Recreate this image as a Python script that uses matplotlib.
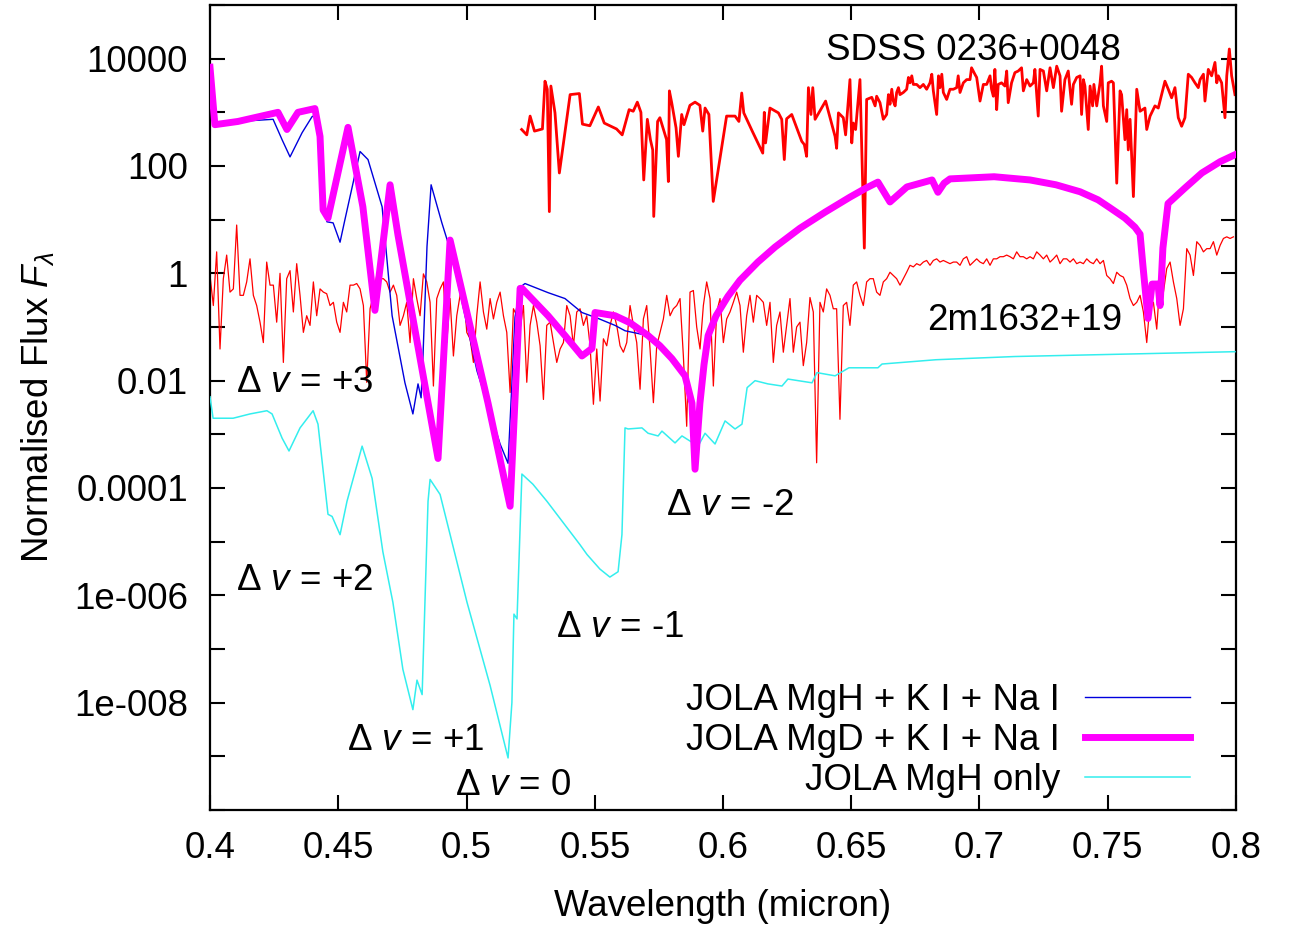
import numpy as np
import matplotlib
matplotlib.use('Agg')
import matplotlib.pyplot as plt
from matplotlib.ticker import FixedLocator, FixedFormatter, NullLocator

plt.rcParams['font.family'] = ['Liberation Sans', 'DejaVu Sans']
plt.rcParams['mathtext.fontset'] = 'custom'
plt.rcParams['mathtext.rm'] = 'Liberation Sans'
plt.rcParams['mathtext.it'] = 'Liberation Sans:italic'
plt.rcParams['mathtext.bf'] = 'Liberation Sans:bold'

# ---------------- data (log10 of normalised flux) ----------------
# JOLA MgD + K I + Na I
mgd_wl = [0.4000, 0.4019, 0.4109, 0.4265, 0.4300, 0.4343, 0.4409, 0.4429, 0.4441, 0.4460,
          0.4538, 0.4596, 0.4643, 0.4702, 0.4733, 0.4889, 0.4936, 0.5084, 0.5170, 0.5209,
          0.5216, 0.5318, 0.5384, 0.5450, 0.5489, 0.5501, 0.5579, 0.5637, 0.5708, 0.5754,
          0.5801, 0.5852, 0.5879, 0.5891, 0.5910, 0.5926, 0.5942, 0.5973, 0.6019, 0.6066,
          0.6136, 0.6203, 0.6300, 0.6398, 0.6495, 0.6558, 0.6604, 0.6651, 0.6717, 0.6815,
          0.6838, 0.6862, 0.6885, 0.7057, 0.7197, 0.7298, 0.7392, 0.7462, 0.7509, 0.7567,
          0.7606, 0.7626, 0.7637, 0.7657, 0.7673, 0.7696, 0.7704, 0.7715, 0.7735, 0.7801,
          0.7867, 0.7938, 0.7996]
mgd_log = [3.84, 2.77, 2.83, 3.00, 2.68, 3.00, 3.07, 2.55, 1.18, 1.03,
           2.72, 1.24, -0.69, 1.65, 0.71, -3.45, 0.62, -2.42, -4.34, -0.28,
           -0.28, -0.79, -1.16, -1.54, -1.40, -0.73, -0.79, -0.92, -1.16, -1.35,
           -1.59, -1.91, -2.42, -3.65, -2.42, -1.70, -1.16, -0.79, -0.43, -0.13,
           0.21, 0.49, 0.84, 1.14, 1.42, 1.59, 1.70, 1.33, 1.61, 1.74,
           1.51, 1.68, 1.76, 1.80, 1.74, 1.65, 1.52, 1.37, 1.22, 1.03,
           0.86, 0.73, 0.15, -0.84, -0.20, -0.20, -0.60, 0.47, 1.30, 1.59,
           1.87, 2.08, 2.21]

# JOLA MgH + K I + Na I
mgh_kna_wl = [0.4000, 0.4019, 0.4109, 0.4246, 0.4281, 0.4312, 0.4359, 0.4398, 0.4417, 0.4437,
              0.4456, 0.4480, 0.4507, 0.4526, 0.4585, 0.4616, 0.4671, 0.4710, 0.4760, 0.4791,
              0.4811, 0.4823, 0.4830, 0.4846, 0.4862, 0.4904, 0.4943, 0.5041, 0.5131, 0.5162,
              0.5177, 0.5189, 0.5209, 0.5228, 0.5318, 0.5384, 0.5450, 0.5513, 0.5579, 0.5618,
              0.5708, 0.5754, 0.5801, 0.5852, 0.5879, 0.5891, 0.5910, 0.5926, 0.5942, 0.5973,
              0.6019, 0.6066, 0.6136, 0.6203, 0.6300, 0.6398, 0.6495, 0.6558, 0.6604, 0.6651,
              0.6717, 0.6815, 0.6838, 0.6862, 0.6885, 0.7057, 0.7197, 0.7298, 0.7392, 0.7462,
              0.7509, 0.7567, 0.7606, 0.7626, 0.7637, 0.7657, 0.7673, 0.7696, 0.7704, 0.7715,
              0.7735, 0.7801, 0.7867, 0.7938, 0.7996]
mgh_kna_log = [3.84, 2.77, 2.83, 2.87, 2.49, 2.17, 2.62, 2.92, 2.96, 1.57,
               0.96, 0.94, 0.58, 1.00, 2.27, 2.12, 1.24, -0.79, -2.04, -2.62,
               -2.06, -2.32, -1.59, 0.50, 1.65, 0.94, 0.34, -1.82, -3.18, -3.54,
               -2.06, -0.82, -0.26, -0.19, -0.36, -0.47, -0.73, -0.84, -0.97, -1.07,
               -1.16, -1.35, -1.59, -1.91, -2.42, -3.65, -2.42, -1.70, -1.16, -0.79,
               -0.43, -0.13, 0.21, 0.49, 0.84, 1.14, 1.42, 1.59, 1.70, 1.33,
               1.61, 1.74, 1.51, 1.68, 1.76, 1.80, 1.74, 1.65, 1.52, 1.37,
               1.22, 1.03, 0.86, 0.73, 0.15, -0.84, -0.20, -0.20, -0.60, 0.47,
               1.30, 1.59, 1.87, 2.08, 2.21]

# JOLA MgH only
mgh_wl = [0.4000, 0.4012, 0.4090, 0.4156, 0.4222, 0.4242, 0.4281, 0.4308, 0.4351, 0.4402,
          0.4421, 0.4460, 0.4476, 0.4507, 0.4534, 0.4593, 0.4632, 0.4674, 0.4713, 0.4752,
          0.4791, 0.4807, 0.4827, 0.4838, 0.4850, 0.4858, 0.4897, 0.5002, 0.5092, 0.5162,
          0.5177, 0.5185, 0.5197, 0.5216, 0.5259, 0.5314, 0.5365, 0.5443, 0.5470, 0.5520,
          0.5559, 0.5591, 0.5606, 0.5618, 0.5630, 0.5684, 0.5708, 0.5747, 0.5762, 0.5813,
          0.5840, 0.5903, 0.5930, 0.5969, 0.6008, 0.6047, 0.6074, 0.6094, 0.6125, 0.6175,
          0.6230, 0.6253, 0.6347, 0.6366, 0.6437, 0.6491, 0.6604, 0.6620, 0.6830, 0.7138,
          0.7996]
mgh_log = [-2.30, -2.70, -2.70, -2.62, -2.56, -2.62, -3.07, -3.31, -2.88, -2.56,
           -2.81, -4.49, -4.53, -4.87, -4.25, -3.22, -3.82, -5.19, -6.13, -7.38,
           -8.13, -7.58, -7.85, -6.13, -4.25, -3.84, -4.12, -6.13, -7.68, -9.03,
           -8.00, -6.35, -6.44, -3.74, -3.93, -4.25, -4.57, -5.06, -5.24, -5.51,
           -5.66, -5.56, -4.87, -2.88, -2.90, -2.88, -2.98, -3.03, -2.94, -3.16,
           -3.03, -3.22, -2.98, -3.18, -2.75, -2.90, -2.81, -2.13, -2.00, -2.06,
           -2.10, -1.97, -2.04, -1.85, -1.91, -1.76, -1.76, -1.69, -1.61, -1.55,
           -1.46]

# 2m1632+19 observed spectrum (three uniformly sampled pieces)
m1632_a_range = (0.4000, 0.5222)
m1632_a_log = [-0.04, -0.60, 0.40, -1.41, -0.10, 0.34, -0.35, -0.29, 0.90, -0.41,
               -0.41, -0.16, 0.27, -0.41, -0.60, -0.91, -1.29, 0.21, -0.22, -0.22,
               -0.91, 0.00, -1.66, -0.10, 0.05, -0.72, 0.18, -0.41, -1.10, -0.79,
               -0.97, -0.16, -0.79, -0.29, -0.35, -0.38, -0.60, -0.54, -0.91, -1.10,
               -0.54, -0.72, -0.22, -0.22, -0.19, -0.29, -0.60, -2.03, -0.66, -0.41,
               -0.04, -0.10, -0.10, -0.16, -0.35, -0.22, -0.41, -0.97, -0.79, -0.54,
               -1.29, -0.10, -0.47, -0.79, -0.01, -0.16, -0.54, -2.10, -0.47, -0.29,
               -0.16, -1.29, -0.47, -1.54, -0.79, -0.41, -0.29, -1.10, -1.22, -1.66,
               -0.79, -0.16, -0.72, -1.04, -0.47, -0.85, -0.54, -0.35, -0.79, -1.10,
               -2.22, -0.66, -0.79, -1.04, -0.60]
m1632_b_range = (0.5235, 0.6430)
m1632_b_log = [-2.03, -0.97, -0.60, -0.91, -1.35, -2.35, -0.97, -0.91, -1.29, -1.66,
               -1.41, -1.29, -0.60, -0.79, -1.35, -0.72, -0.66, -0.97, -0.79, -1.35,
               -2.44, -1.41, -2.38, -1.22, -1.35, -0.97, -0.72, -0.97, -1.35, -1.47,
               -1.29, -0.60, -0.97, -1.29, -2.16, -0.85, -0.60, -1.41, -2.41, -1.35,
               -1.10, -0.85, -0.41, -0.79, -0.66, -0.60, -0.47, -1.54, -2.85, -0.35,
               -0.32, -1.00, -1.41, -0.60, -0.16, -0.47, -2.10, -0.72, -0.47, -1.29,
               -0.85, -0.72, -0.54, -0.35, -0.60, -1.47, -0.79, -0.41, -0.91, -0.41,
               -0.47, -0.54, -0.97, -0.54, -1.66, -0.97, -0.72, -1.47, -0.97, -0.47,
               -1.47, -1.00, -0.91, -1.72, -1.29, -0.45, -0.72, -3.53, -0.54, -0.72,
               -0.29, -0.41, -0.66]
m1632_c_range = (0.6443, 0.7990)
m1632_c_log = [-0.66, -2.72, -0.60, -0.54, -0.97, -0.22, -0.16, -0.41, -0.60, -0.16,
               -0.10, -0.10, -0.35, -0.41, -0.16, -0.10, 0.02, -0.04, -0.10, -0.22,
               -0.10, 0.02, 0.15, 0.12, 0.18, 0.15, 0.21, 0.24, 0.15, 0.24,
               0.27, 0.21, 0.24, 0.21, 0.18, 0.21, 0.21, 0.15, 0.27, 0.31,
               0.15, 0.21, 0.27, 0.21, 0.18, 0.27, 0.15, 0.27, 0.27, 0.31,
               0.31, 0.34, 0.31, 0.27, 0.40, 0.31, 0.31, 0.27, 0.31, 0.27,
               0.40, 0.34, 0.27, 0.34, 0.21, 0.27, 0.34, 0.18, 0.27, 0.27,
               0.21, 0.27, 0.18, 0.21, 0.18, 0.27, 0.21, 0.18, 0.27, 0.18,
               0.24, -0.04, -0.10, -0.19, 0.02, -0.04, -0.07, -0.22, -0.47, -0.60,
               -0.54, -0.41, -0.72, -1.29, -0.54, -0.54, -1.04, -0.10, -0.35, 0.09,
               0.21, -0.16, -0.47, -0.97, -0.66, 0.46, 0.34, -0.04, 0.59, 0.52,
               0.40, 0.46, 0.46, 0.59, 0.34, 0.52, 0.65, 0.68, 0.65, 0.68]

# SDSS 0236+0048 observed spectrum
sdss_wl = [0.5215, 0.5235, 0.5248, 0.5265, 0.5296, 0.5306, 0.5315, 0.5323, 0.5329, 0.5345,
           0.5362, 0.5404, 0.5440, 0.5452, 0.5481, 0.5514, 0.5537, 0.5585, 0.5607, 0.5634,
           0.5650, 0.5666, 0.5680, 0.5691, 0.5705, 0.5717, 0.5726, 0.5730, 0.5745, 0.5754,
           0.5780, 0.5787, 0.5791, 0.5800, 0.5817, 0.5826, 0.5839, 0.5848, 0.5871, 0.5891,
           0.5910, 0.5921, 0.5930, 0.5945, 0.5962, 0.6014, 0.6047, 0.6062, 0.6073, 0.6081,
           0.6114, 0.6155, 0.6161, 0.6166, 0.6183, 0.6216, 0.6229, 0.6239, 0.6248, 0.6268,
           0.6307, 0.6317, 0.6326, 0.6333, 0.6343, 0.6350, 0.6359, 0.6400, 0.6437, 0.6443,
           0.6450, 0.6469, 0.6478, 0.6495, 0.6502, 0.6508, 0.6517, 0.6534, 0.6551, 0.6560,
           0.6580, 0.6593,
           0.6599, 0.6612, 0.6625, 0.6638, 0.6645, 0.6651, 0.6658, 0.6664, 0.6671, 0.6677,
           0.6684, 0.6690, 0.6703, 0.6716, 0.6723, 0.6729, 0.6736, 0.6742, 0.6755, 0.6768,
           0.6781, 0.6794, 0.6807, 0.6814, 0.6820, 0.6833, 0.6840, 0.6846, 0.6853, 0.6859,
           0.6872, 0.6885, 0.6898, 0.6911, 0.6917, 0.6924, 0.6937, 0.6950, 0.6963, 0.6969,
           0.6982, 0.6989, 0.7002, 0.7015, 0.7028, 0.7041, 0.7047, 0.7054, 0.7060, 0.7067,
           0.7073, 0.7086, 0.7099, 0.7106, 0.7112, 0.7125, 0.7138, 0.7151, 0.7164, 0.7171,
           0.7184, 0.7197, 0.7210, 0.7216, 0.7229, 0.7236, 0.7249, 0.7262, 0.7275, 0.7288,
           0.7301, 0.7314, 0.7320, 0.7333, 0.7346, 0.7359, 0.7366, 0.7379, 0.7392, 0.7398,
           0.7405, 0.7411, 0.7424, 0.7431, 0.7441, 0.7446, 0.7457, 0.7470, 0.7476, 0.7483,
           0.7496, 0.7502, 0.7515, 0.7522, 0.7535, 0.7548, 0.7554, 0.7567, 0.7574, 0.7580,
           0.7587, 0.7600, 0.7613, 0.7626, 0.7645, 0.7652, 0.7665, 0.7684, 0.7697, 0.7723,
           0.7736, 0.7749, 0.7762, 0.7775, 0.7788, 0.7801, 0.7814, 0.7827, 0.7840, 0.7853,
           0.7860, 0.7873, 0.7879, 0.7892, 0.7905, 0.7918, 0.7925, 0.7931, 0.7944, 0.7957,
           0.7964, 0.7974, 0.7983, 0.7996]
sdss_log = [2.68, 2.58, 2.93, 2.65, 2.69, 3.58, 3.43, 1.15, 3.49, 2.99,
            1.87, 3.33, 3.35, 2.78, 2.75, 3.10, 2.80, 2.69, 2.58, 3.05,
            3.02, 3.19, 3.00, 1.74, 2.87, 2.49, 2.30, 1.06, 2.83, 2.90,
            2.49, 1.71, 3.40, 3.18, 2.71, 2.18, 2.96, 2.77, 3.13, 3.19,
            3.13, 2.65, 3.08, 2.96, 1.34, 2.93, 2.93, 2.83, 3.36, 2.99,
            2.65, 2.24, 3.00, 2.43, 3.08, 2.99, 2.87, 2.12, 2.88, 2.96,
            2.46, 2.40, 2.18, 3.46, 2.96, 3.46, 2.87, 3.21, 2.55, 2.33,
            2.99, 2.90, 2.58, 3.61, 2.43, 2.80, 2.68, 3.61, 0.47, 3.24,
            3.28, 3.12,
            3.30, 3.18, 2.87, 2.96, 3.33, 3.15, 3.43, 3.21, 3.12, 3.37,
            3.46, 3.33, 3.37, 3.43, 3.65, 3.55, 3.68, 3.52, 3.52, 3.46,
            3.52, 3.43, 3.55, 3.71, 3.40, 2.96, 3.68, 3.46, 3.71, 3.37,
            3.24, 3.43, 3.43, 3.46, 3.68, 3.37, 3.55, 3.61, 3.61, 3.83,
            3.71, 3.65, 3.21, 3.52, 3.52, 3.68, 3.43, 3.30, 3.80, 3.05,
            3.52, 3.55, 3.49, 3.77, 3.18, 3.55, 3.74, 3.77, 3.83, 3.40,
            3.61, 3.49, 3.55, 3.80, 2.93, 3.80, 3.77, 3.40, 3.83, 3.46,
            3.86, 3.68, 3.02, 3.61, 3.77, 3.15, 3.52, 3.65, 3.68, 2.96,
            3.61, 3.49, 2.68, 3.49, 3.12, 3.52, 3.12, 3.55, 3.86, 3.12,
            2.83, 3.55, 3.58, 3.55, 1.68, 3.40, 3.33, 2.49, 3.05, 2.30,
            2.87, 1.43, 3.43, 3.02, 3.08, 2.68, 2.93, 3.12, 3.08, 3.58,
            3.43, 3.27, 3.46, 2.90, 2.74, 2.90, 3.71, 3.65, 3.55, 3.46,
            3.61, 3.71, 3.21, 3.80, 3.68, 3.93, 3.55, 3.68, 3.55, 2.90,
            3.68, 4.18, 3.68, 3.33]

# axis ticks / labels
xtick_values = [0.4, 0.45, 0.5, 0.55, 0.6, 0.65, 0.7, 0.75, 0.8]
xtick_labels = ['0.4', '0.45', '0.5', '0.55', '0.6', '0.65', '0.7', '0.75', '0.8']
ytick_exponents = [-10, -9, -8, -7, -6, -5, -4, -3, -2, -1, 0, 1, 2, 3, 4, 5]
ytick_labels = ['', '', '1e-008', '', '1e-006', '', '0.0001', '', '0.01', '', '1', '', '100', '', '10000', '']

legend_labels = ['JOLA MgH + K I + Na I', 'JOLA MgD + K I + Na I', 'JOLA MgH only']

# ---------------- plotting ----------------
FS = 26.5
fig = plt.figure(figsize=(12.9, 9.27), dpi=100)
ax = fig.add_axes([210 / 1290, 1 - 810 / 927, 1026 / 1290, 805 / 927])

def pw(v):
    return np.power(10.0, np.asarray(v, dtype=float))

m1632_wl = np.concatenate([np.linspace(*m1632_a_range, len(m1632_a_log)),
                           np.linspace(*m1632_b_range, len(m1632_b_log)),
                           np.linspace(*m1632_c_range, len(m1632_c_log))])
m1632_log = np.concatenate([m1632_a_log, m1632_b_log, m1632_c_log])

ax.plot(m1632_wl, pw(m1632_log), color='#ff0000', lw=0.9, zorder=2)
ax.plot(sdss_wl, pw(sdss_log), color='#ff0000', lw=2.0, zorder=2)
l3, = ax.plot(mgh_wl, pw(mgh_log), color='#33eeee', lw=1.1, zorder=3, label=legend_labels[2])
l1, = ax.plot(mgh_kna_wl, pw(mgh_kna_log), color='#0000dd', lw=1.0, zorder=3, label=legend_labels[0])
l2, = ax.plot(mgd_wl, pw(mgd_log), color='#ff00ff', lw=5.0, zorder=4, label=legend_labels[1],
              solid_joinstyle='round')

ax.set_yscale('log')
ax.set_xlim(0.4, 0.8)
ax.set_ylim(1e-10, 1e5)

ax.xaxis.set_major_locator(FixedLocator(xtick_values))
ax.xaxis.set_major_formatter(FixedFormatter(xtick_labels))
ax.xaxis.set_minor_locator(NullLocator())
ax.yaxis.set_major_locator(FixedLocator([10.0 ** e for e in ytick_exponents]))
ax.yaxis.set_major_formatter(FixedFormatter(ytick_labels))
ax.yaxis.set_minor_locator(NullLocator())

ax.tick_params(axis='both', which='major', direction='in', length=11, width=1.5,
               top=True, right=True, labelsize=FS)
ax.tick_params(axis='x', pad=15)
ax.tick_params(axis='y', pad=16)
for s in ax.spines.values():
    s.set_linewidth(1.6)

ax.set_xlabel('Wavelength (micron)', fontsize=FS, labelpad=17)
ax.set_ylabel(r'Normalised Flux $F_{\lambda}$', fontsize=FS, labelpad=13)

ann = [('Δ $\\mathit{v}$ = +3', 236, 392), ('Δ $\\mathit{v}$ = +2', 236, 590),
       ('Δ $\\mathit{v}$ = +1', 347, 750), ('Δ $\\mathit{v}$ = 0', 455, 795),
       ('Δ $\\mathit{v}$ = -1', 556, 637), ('Δ $\\mathit{v}$ = -2', 666, 515),
       ('2m1632+19', 927, 330), ('SDSS 0236+0048', 826, 60)]
for txt, px, py in ann:
    ax.text((px - 210) / 1026, (810 - py) / 805, txt, transform=ax.transAxes,
            fontsize=FS, ha='left', va='baseline', zorder=6)

leg = ax.legend(handles=[l1, l2, l3], loc='lower right', bbox_to_anchor=(0.955, 0.015),
                frameon=False, fontsize=FS, markerfirst=False, handlelength=2.85,
                handletextpad=0.68, labelspacing=0.14, borderpad=0.0, borderaxespad=0.0)

fig.savefig('out.png', dpi=100)
